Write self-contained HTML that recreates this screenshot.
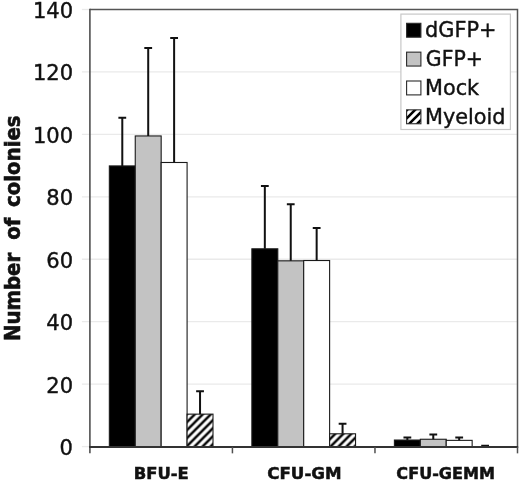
<!DOCTYPE html>
<html lang="en"><head><meta charset="utf-8"><title>Number of colonies</title>
<style>html,body{margin:0;padding:0;background:#fff;}body{width:520px;height:482px;overflow:hidden;}svg{display:block;}text{font-family:'DejaVu Sans','Liberation Sans',sans-serif;fill:#111;}</style>
</head><body>
<svg width="520" height="482" viewBox="0 0 520 482">
<defs><pattern id="hatch" patternUnits="userSpaceOnUse" width="8" height="8" x="186.5" y="446.6"><rect width="8" height="8" fill="#fff"/><path d="M-2,10 L10,-2 M-2,2 L2,-2 M6,10 L10,6" stroke="#000" stroke-width="2.4" fill="none"/></pattern><pattern id="hatch2" patternUnits="userSpaceOnUse" width="8" height="8" x="407" y="110"><rect width="8" height="8" fill="#fff"/><path d="M-2,10 L10,-2 M-2,2 L2,-2 M6,10 L10,6" stroke="#000" stroke-width="2.6" fill="none"/></pattern></defs>
<rect width="520" height="482" fill="#fff"/>
<line x1="81.90" y1="446.60" x2="89.90" y2="446.60" stroke="#eaeaea" stroke-width="1.3"/>
<line x1="81.90" y1="384.16" x2="517.50" y2="384.16" stroke="#eaeaea" stroke-width="1.3"/>
<line x1="81.90" y1="321.71" x2="517.50" y2="321.71" stroke="#eaeaea" stroke-width="1.3"/>
<line x1="81.90" y1="259.27" x2="517.50" y2="259.27" stroke="#eaeaea" stroke-width="1.3"/>
<line x1="81.90" y1="196.83" x2="517.50" y2="196.83" stroke="#eaeaea" stroke-width="1.3"/>
<line x1="81.90" y1="134.39" x2="517.50" y2="134.39" stroke="#eaeaea" stroke-width="1.3"/>
<line x1="81.90" y1="71.94" x2="517.50" y2="71.94" stroke="#eaeaea" stroke-width="1.3"/>
<line x1="81.90" y1="9.50" x2="89.90" y2="9.50" stroke="#eaeaea" stroke-width="1.3"/>
<path d="M89.90,9.50 H517.50 V446.60" fill="none" stroke="#555" stroke-width="1.5"/>
<rect x="109.34" y="165.92" width="25.92" height="280.68" fill="#000" stroke="#1a1a1a" stroke-width="1.1"/>
<path d="M122.29,165.92 V117.68 M118.39,117.68 H126.19" stroke="#111" stroke-width="2" fill="none"/>
<rect x="135.25" y="135.95" width="25.92" height="310.65" fill="#c3c3c3" stroke="#1a1a1a" stroke-width="1.1"/>
<path d="M148.21,135.95 V48.06 M144.31,48.06 H152.11" stroke="#111" stroke-width="2" fill="none"/>
<rect x="161.17" y="162.49" width="25.92" height="284.12" fill="#fff" stroke="#1a1a1a" stroke-width="1.1"/>
<path d="M174.12,162.49 V38.07 M170.22,38.07 H178.02" stroke="#111" stroke-width="2" fill="none"/>
<rect x="187.08" y="414.13" width="25.92" height="32.47" fill="url(#hatch)" stroke="#1a1a1a" stroke-width="1.1"/>
<path d="M200.04,414.13 V391.18 M196.14,391.18 H203.94" stroke="#111" stroke-width="2" fill="none"/>
<rect x="251.87" y="248.81" width="25.92" height="197.79" fill="#000" stroke="#1a1a1a" stroke-width="1.1"/>
<path d="M264.83,248.81 V185.90 M260.93,185.90 H268.73" stroke="#111" stroke-width="2" fill="none"/>
<rect x="277.78" y="260.83" width="25.92" height="185.77" fill="#c3c3c3" stroke="#1a1a1a" stroke-width="1.1"/>
<path d="M290.74,260.83 V204.32 M286.84,204.32 H294.64" stroke="#111" stroke-width="2" fill="none"/>
<rect x="303.70" y="260.52" width="25.92" height="186.08" fill="#fff" stroke="#1a1a1a" stroke-width="1.1"/>
<path d="M316.66,260.52 V228.05 M312.76,228.05 H320.56" stroke="#111" stroke-width="2" fill="none"/>
<rect x="329.62" y="433.80" width="25.92" height="12.80" fill="url(#hatch)" stroke="#1a1a1a" stroke-width="1.1"/>
<path d="M342.57,433.80 V423.81 M338.67,423.81 H346.47" stroke="#111" stroke-width="2" fill="none"/>
<rect x="394.40" y="440.04" width="25.92" height="6.56" fill="#000" stroke="#1a1a1a" stroke-width="1.1"/>
<path d="M407.36,440.04 V437.39 M403.46,437.39 H411.26" stroke="#111" stroke-width="2" fill="none"/>
<rect x="420.32" y="439.26" width="25.92" height="7.34" fill="#c3c3c3" stroke="#1a1a1a" stroke-width="1.1"/>
<path d="M433.28,439.26 V434.42 M429.38,434.42 H437.18" stroke="#111" stroke-width="2" fill="none"/>
<rect x="446.23" y="440.36" width="25.92" height="6.24" fill="#fff" stroke="#1a1a1a" stroke-width="1.1"/>
<path d="M459.19,440.36 V437.39 M455.29,437.39 H463.09" stroke="#111" stroke-width="2" fill="none"/>
<path d="M485.11,446.60 V445.66 M481.21,445.66 H489.01" stroke="#111" stroke-width="2" fill="none"/>
<path d="M89.90,8.75 V453.35" fill="none" stroke="#505050" stroke-width="1.6"/>
<path d="M89.10,446.95 H518.25" fill="none" stroke="#333" stroke-width="1.9"/>
<line x1="232.43" y1="446.95" x2="232.43" y2="453.35" stroke="#505050" stroke-width="1.5"/>
<line x1="374.97" y1="446.95" x2="374.97" y2="453.35" stroke="#505050" stroke-width="1.5"/>
<line x1="517.50" y1="446.95" x2="517.50" y2="453.35" stroke="#505050" stroke-width="1.5"/>
<rect x="400.9" y="14.1" width="109.5" height="115.4" fill="#fff" stroke="#c8c8c8" stroke-width="1.2"/>
<rect x="406.6" y="23.30" width="14.3" height="13.9" fill="#000" stroke="#2a2a2a" stroke-width="1.1"/>
<rect x="406.6" y="52.15" width="14.3" height="13.9" fill="#c3c3c3" stroke="#2a2a2a" stroke-width="1.1"/>
<rect x="406.6" y="81.00" width="14.3" height="13.9" fill="#fff" stroke="#2a2a2a" stroke-width="1.1"/>
<rect x="406.6" y="109.85" width="14.3" height="13.9" fill="url(#hatch2)" stroke="#2a2a2a" stroke-width="1.1"/>
<text transform="translate(59.53,455.49) scale(1.0222,1)" font-size="20.6" stroke="#111" stroke-width="0.4">0</text>
<text transform="translate(46.24,392.92) scale(1.0222,1)" font-size="20.6" stroke="#111" stroke-width="0.4">20</text>
<text transform="translate(46.24,330.35) scale(1.0222,1)" font-size="20.6" stroke="#111" stroke-width="0.4">40</text>
<text transform="translate(46.24,267.78) scale(1.0222,1)" font-size="20.6" stroke="#111" stroke-width="0.4">60</text>
<text transform="translate(46.24,205.21) scale(1.0222,1)" font-size="20.6" stroke="#111" stroke-width="0.4">80</text>
<text transform="translate(32.96,142.64) scale(1.0222,1)" font-size="20.6" stroke="#111" stroke-width="0.4">100</text>
<text transform="translate(32.96,80.07) scale(1.0222,1)" font-size="20.6" stroke="#111" stroke-width="0.4">120</text>
<text transform="translate(32.96,17.50) scale(1.0222,1)" font-size="20.6" stroke="#111" stroke-width="0.4">140</text>
<text transform="translate(425.01,37.30) scale(0.9884,1)" font-size="21.1" stroke="#111" stroke-width="0.4">dGFP+</text>
<text transform="translate(425.83,66.10) scale(0.9696,1)" font-size="21.1" stroke="#111" stroke-width="0.4">GFP+</text>
<text transform="translate(425.03,95.00) scale(0.9849,1)" font-size="21.1" stroke="#111" stroke-width="0.4">Mock</text>
<text transform="translate(425.03,123.80) scale(0.9859,1)" font-size="21.1" stroke="#111" stroke-width="0.4">Myeloid</text>
<text transform="translate(133.75,478.50) scale(1.0529,1)" font-size="15.6" font-weight="bold" stroke="#111" stroke-width="0.5">BFU-E</text>
<text transform="translate(267.23,478.50) scale(1.0701,1)" font-size="15.6" font-weight="bold" stroke="#111" stroke-width="0.5">CFU-GM</text>
<text transform="translate(396.37,478.50) scale(1.0309,1)" font-size="15.6" font-weight="bold" stroke="#111" stroke-width="0.5">CFU-GEMM</text>
<text transform="translate(19.8,341.12) rotate(-90) scale(0.9580,1)" font-size="20.6" font-weight="bold" word-spacing="5.0" stroke="#111" stroke-width="0.6">Number <tspan dx="1.5">of</tspan> <tspan dx="-1">colonies</tspan></text>
</svg></body></html>
